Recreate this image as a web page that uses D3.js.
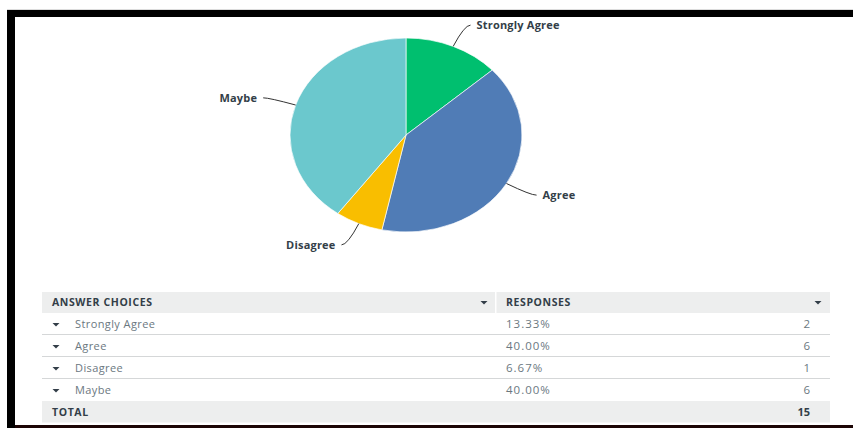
<!DOCTYPE html>
<html>
<head>
<meta charset="utf-8">
<script src="https://cdn.jsdelivr.net/npm/d3@7"></script>
<style>
  html, body { margin: 0; padding: 0; background: #fff; }
  svg { display: block; }
</style>
</head>
<body>
<svg id="chart" width="853" height="428"></svg>
<script>
// Survey answers
const categories = ["Strongly Agree", "Agree", "Disagree", "Maybe"];
const counts = [2, 6, 1, 6];
const percentLabels = ["13.33%", "40.00%", "6.67%", "40.00%"];
const totalCount = 15;
const sliceColors = ["#00bf6f", "#507cb6", "#f9be00", "#6bc8cd"];
const columnHeaders = ["ANSWER CHOICES", "RESPONSES"];
const totalLabel = "TOTAL";

const svg = d3.select("#chart");
const W = 853, H = 428;

// Page frame
svg.append("rect").attr("x", 0).attr("y", 0).attr("width", W).attr("height", H).attr("fill", "#fff");
svg.append("line").attr("x1", 7).attr("x2", W).attr("y1", 9.5).attr("y2", 9.5).attr("stroke", "#dcdcdc");
svg.append("rect").attr("x", 7).attr("y", 10).attr("width", W - 7).attr("height", 7).attr("fill", "#000");
svg.append("rect").attr("x", 7).attr("y", 10).attr("width", 8).attr("height", H - 10).attr("fill", "#000");
svg.append("rect").attr("x", 15).attr("y", 425).attr("width", W - 15).attr("height", 3).attr("fill", "#1c0505");

// Pie (drawn as a circle and stretched horizontally)
const cx = 406, cy = 135, rx = 116, ry = 97;
const pie = d3.pie().sort(null).value(d => d.count);
const data = categories.map((c, i) => ({ name: c, count: counts[i], color: sliceColors[i] }));
const arcs = pie(data);
const arc = d3.arc().innerRadius(0).outerRadius(ry);

const pieG = svg.append("g").attr("transform", `translate(${cx},${cy}) scale(${rx / ry},1)`);
pieG.selectAll("path").data(arcs).join("path")
  .attr("d", arc)
  .attr("fill", d => d.data.color)
  .attr("stroke", "#ffffff")
  .attr("stroke-width", 0.6);

// Labels with curved connectors
const k = 1.24;
const labelG = svg.append("g");
arcs.forEach(a => {
  const mid = (a.startAngle + a.endAngle) / 2;
  const sx = Math.sin(mid), sy = -Math.cos(mid);
  const edge = [cx + rx * sx, cy + ry * sy];
  const outer = [cx + rx * k * sx, cy + ry * k * sy];
  const side = sx >= 0 ? 1 : -1;
  const end = [outer[0] + 6 * side, outer[1]];
  labelG.append("path")
    .attr("d", `M${edge[0]},${edge[1]} Q${outer[0]},${outer[1]} ${end[0]},${end[1]}`)
    .attr("fill", "none")
    .attr("stroke", "#333")
    .attr("stroke-width", 1);
  labelG.append("text")
    .attr("x", end[0] + 6 * side)
    .attr("y", end[1])
    .attr("dy", "0.35em")
    .attr("text-anchor", side > 0 ? "start" : "end")
    .attr("font-family", "'Open Sans', Roboto, sans-serif")
    .attr("font-weight", "bold")
    .attr("font-size", 11)
    .attr("letter-spacing", 0.2)
    .attr("fill", "#333e48")
    .text(a.data.name);
});

// Results table
const tX0 = 42, tX1 = 830, colSplit = 495;
const headerTop = 292, headerH = 21;
const rowH = 22;
const fontFam = "'Open Sans', Roboto, sans-serif";
const tbl = svg.append("g");

// header
tbl.append("rect").attr("x", tX0).attr("y", headerTop).attr("width", colSplit - tX0).attr("height", headerH).attr("fill", "#edeeee");
tbl.append("rect").attr("x", colSplit + 1.5).attr("y", headerTop).attr("width", tX1 - colSplit - 1.5).attr("height", headerH).attr("fill", "#edeeee");

function caret(g, x, y, color) {
  g.append("path")
    .attr("d", `M${x - 3.5},${y - 1.5} L${x + 3.5},${y - 1.5} L${x},${y + 2} Z`)
    .attr("fill", color);
}

const hy = headerTop + headerH / 2;
tbl.append("text").attr("x", 52).attr("y", hy).attr("dy", "0.35em")
  .attr("font-family", fontFam).attr("font-weight", "bold").attr("font-size", 10.5)
  .attr("letter-spacing", 0.6)
  .attr("fill", "#333e48").text(columnHeaders[0]);
tbl.append("text").attr("x", 506).attr("y", hy).attr("dy", "0.35em")
  .attr("font-family", fontFam).attr("font-weight", "bold").attr("font-size", 10.5)
  .attr("letter-spacing", 0.6)
  .attr("fill", "#333e48").text(columnHeaders[1]);
caret(tbl, 484, hy, "#333e48");
caret(tbl, 818, hy, "#333e48");

// rows
const y = d3.scaleBand().domain(categories).range([headerTop + headerH, headerTop + headerH + rowH * categories.length]);
categories.forEach((c, i) => {
  const top = y(c);
  const mid = top + y.bandwidth() / 2;
  caret(tbl, 56, mid + 0.5, "#333e48");
  tbl.append("text").attr("x", 75).attr("y", mid).attr("dy", "0.35em")
    .attr("font-family", fontFam).attr("font-size", 11).attr("letter-spacing", 0.4)
    .attr("fill", "#6b787f").text(c);
  tbl.append("text").attr("x", 506).attr("y", mid).attr("dy", "0.35em")
    .attr("font-family", fontFam).attr("font-size", 11.5).attr("letter-spacing", 1)
    .attr("fill", "#6b787f").text(percentLabels[i]);
  tbl.append("text").attr("x", 810).attr("y", mid).attr("dy", "0.35em").attr("text-anchor", "end")
    .attr("font-family", fontFam).attr("font-size", 11.5)
    .attr("fill", "#6b787f").text(counts[i]);
  if (i < categories.length - 1) {
    tbl.append("line").attr("x1", tX0).attr("x2", tX1)
      .attr("y1", top + y.bandwidth() - 0.5).attr("y2", top + y.bandwidth() - 0.5)
      .attr("stroke", "#d5d7d8").attr("stroke-width", 1);
  }
});

// total row
const totTop = y.range()[1];
tbl.append("rect").attr("x", tX0).attr("y", totTop).attr("width", tX1 - tX0).attr("height", 21.5).attr("fill", "#edeeee");
tbl.append("text").attr("x", 52).attr("y", totTop + 11).attr("dy", "0.35em")
  .attr("font-family", fontFam).attr("font-weight", "bold").attr("font-size", 10.5)
  .attr("letter-spacing", 0.6)
  .attr("fill", "#333e48").text(totalLabel);
tbl.append("text").attr("x", 810).attr("y", totTop + 11).attr("dy", "0.35em").attr("text-anchor", "end")
  .attr("font-family", fontFam).attr("font-weight", "bold").attr("font-size", 11)
  .attr("fill", "#333e48").text(totalCount);
</script>
</body>
</html>
